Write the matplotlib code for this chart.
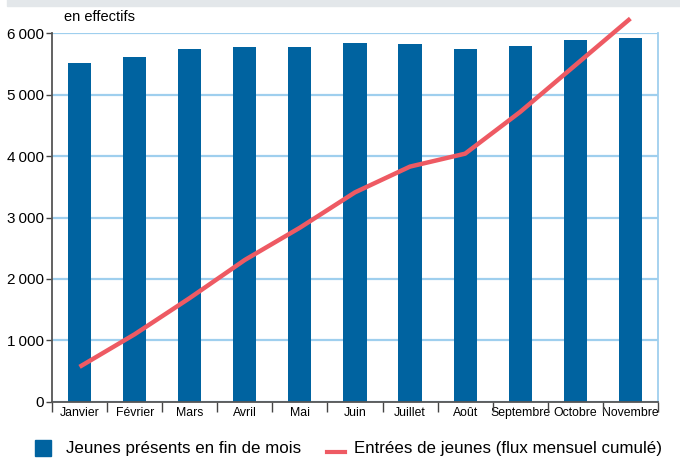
import matplotlib.pyplot as plt
import numpy as np
from matplotlib.patches import Rectangle
from matplotlib.lines import Line2D

# Monthly figures
mois = ['Janvier', 'Février', 'Mars', 'Avril', 'Mai', 'Juin', 'Juillet',
        'Août', 'Septembre', 'Octobre', 'Novembre']
presents = [5520, 5620, 5750, 5780, 5780, 5840, 5820, 5745, 5795, 5890, 5925]
entrees = [570, 1100, 1690, 2310, 2835, 3410, 3830, 4040, 4720, 5480, 6240]
yticks = [0, 1000, 2000, 3000, 4000, 5000, 6000]
legend_labels = ['Jeunes présents en fin de mois',
                 'Entrées de jeunes (flux mensuel cumulé)']

bar_color = '#0063a0'
line_color = '#ee5a63'
grid_color = '#9fcfee'

plt.rcParams['font.family'] = ['Liberation Sans', 'DejaVu Sans']

fig = plt.figure(figsize=(6.8, 4.59), dpi=100)
ax = fig.add_axes([0.0765, 0.1245, 0.891, 0.803])

x = np.arange(len(mois))
ax.bar(x, presents, width=0.42, color=bar_color, zorder=2)
ax.plot(x, entrees, color=line_color, lw=3.2, zorder=3, clip_on=False,
        solid_capstyle='butt')

ax.set_xlim(-0.5, len(mois) - 0.5)
ax.set_ylim(0, 6000)
ax.set_yticks(yticks)
ax.set_yticklabels([f'{v:,}'.replace(',', '\u2009') for v in yticks], fontsize=11)
ax.yaxis.grid(True, color=grid_color, lw=1.6, zorder=1)

# month labels between the boundary ticks
ax.set_xticks(x)
ax.set_xticklabels(mois, fontsize=8.8)
ax.tick_params(axis='x', length=0, pad=4)
ax.set_xticks(np.arange(-0.5, len(mois)), minor=True)
ax.tick_params(axis='x', which='minor', length=7, width=1, color='#444444', direction='out')
ax.tick_params(axis='y', length=4, width=1, color='#444444', pad=2)

for s in ['left', 'bottom']:
    ax.spines[s].set_color('#555555')
    ax.spines[s].set_linewidth(1.3)
ax.spines['bottom'].set_zorder(4)
ax.spines['right'].set_color(grid_color)
ax.spines['right'].set_linewidth(1.3)
ax.spines['top'].set_visible(False)

fig.text(0.094, 0.962, 'en effectifs', fontsize=10.5, ha='left', va='center')

# grey header band
fig.patches.append(Rectangle((0.01, 0.988), 0.99, 0.02, transform=fig.transFigure,
                             color='#e3e7ea', zorder=0))

# legend row laid out by hand
ly = 1 - 448 / 459
fig.add_artist(Line2D([43 / 680], [ly], marker='s', ls='none', color=bar_color,
                      markersize=11, transform=fig.transFigure))
fig.text(66 / 680, ly, legend_labels[0], fontsize=12.2, ha='left', va='center')
fig.add_artist(Line2D([327 / 680, 345 / 680], [ly - 0.008, ly - 0.008], color=line_color,
                      lw=3, transform=fig.transFigure))
fig.text(354 / 680, ly, legend_labels[1], fontsize=12.2, ha='left', va='center')

fig.savefig('out.png', dpi=100)
